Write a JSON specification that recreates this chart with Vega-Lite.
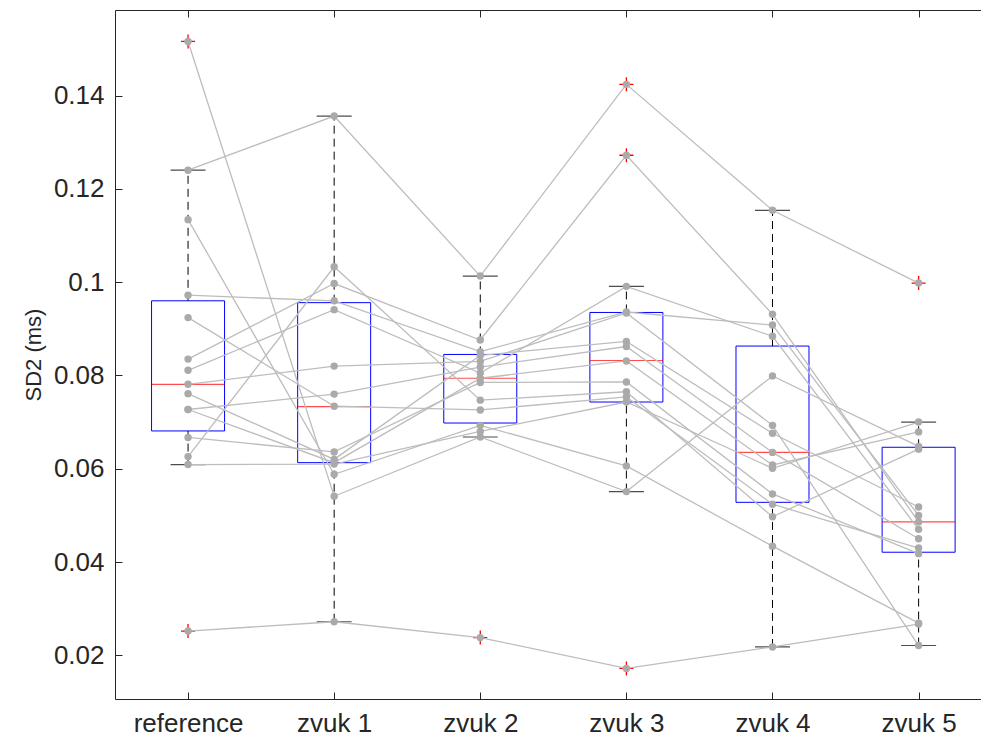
{
  "$schema": "https://vega.github.io/schema/vega-lite/v6.json",
  "width": 866,
  "height": 689,
  "autosize": {"type": "none"},
  "padding": {"left": 115, "top": 10, "right": 0, "bottom": 44},
  "background": "white",
  "config": {"view": {"stroke": null}, "font": "Liberation Sans"},
  "datasets": {
    "pts": [
      {"s": 1, "pos": 1, "v": 0.1516, "out": true}, {"s": 1, "pos": 2, "v": 0.0541, "out": false}, {"s": 1, "pos": 3, "v": 0.0668, "out": false}, {"s": 1, "pos": 4, "v": 0.0551, "out": false}, {"s": 1, "pos": 5, "v": 0.0799, "out": false}, {"s": 1, "pos": 6, "v": 0.0648, "out": false},
      {"s": 2, "pos": 1, "v": 0.1240, "out": false}, {"s": 2, "pos": 2, "v": 0.1356, "out": false}, {"s": 2, "pos": 3, "v": 0.1013, "out": false}, {"s": 2, "pos": 4, "v": 0.1424, "out": true}, {"s": 2, "pos": 5, "v": 0.1154, "out": false}, {"s": 2, "pos": 6, "v": 0.0998, "out": true},
      {"s": 3, "pos": 1, "v": 0.1134, "out": false}, {"s": 3, "pos": 2, "v": 0.0588, "out": false}, {"s": 3, "pos": 3, "v": 0.0693, "out": false}, {"s": 3, "pos": 4, "v": 0.0606, "out": false}, {"s": 3, "pos": 5, "v": 0.0434, "out": false}, {"s": 3, "pos": 6, "v": 0.0269, "out": false},
      {"s": 4, "pos": 1, "v": 0.0972, "out": false}, {"s": 4, "pos": 2, "v": 0.0960, "out": false}, {"s": 4, "pos": 3, "v": 0.0851, "out": false}, {"s": 4, "pos": 4, "v": 0.0936, "out": false}, {"s": 4, "pos": 5, "v": 0.0908, "out": false}, {"s": 4, "pos": 6, "v": 0.0500, "out": false},
      {"s": 5, "pos": 1, "v": 0.0924, "out": false}, {"s": 5, "pos": 2, "v": 0.0734, "out": false}, {"s": 5, "pos": 3, "v": 0.0726, "out": false}, {"s": 5, "pos": 4, "v": 0.0754, "out": false}, {"s": 5, "pos": 5, "v": 0.0524, "out": false}, {"s": 5, "pos": 6, "v": 0.0430, "out": false},
      {"s": 6, "pos": 1, "v": 0.0835, "out": false}, {"s": 6, "pos": 2, "v": 0.0997, "out": false}, {"s": 6, "pos": 3, "v": 0.0876, "out": false}, {"s": 6, "pos": 4, "v": 0.1272, "out": true}, {"s": 6, "pos": 5, "v": 0.0931, "out": false}, {"s": 6, "pos": 6, "v": 0.0486, "out": false},
      {"s": 7, "pos": 1, "v": 0.0811, "out": false}, {"s": 7, "pos": 2, "v": 0.0941, "out": false}, {"s": 7, "pos": 3, "v": 0.0805, "out": false}, {"s": 7, "pos": 4, "v": 0.0991, "out": false}, {"s": 7, "pos": 5, "v": 0.0884, "out": false}, {"s": 7, "pos": 6, "v": 0.0470, "out": false},
      {"s": 8, "pos": 1, "v": 0.0781, "out": false}, {"s": 8, "pos": 2, "v": 0.0820, "out": false}, {"s": 8, "pos": 3, "v": 0.0830, "out": false}, {"s": 8, "pos": 4, "v": 0.0934, "out": false}, {"s": 8, "pos": 5, "v": 0.0693, "out": false}, {"s": 8, "pos": 6, "v": 0.0221, "out": false},
      {"s": 9, "pos": 1, "v": 0.0761, "out": false}, {"s": 9, "pos": 2, "v": 0.0620, "out": false}, {"s": 9, "pos": 3, "v": 0.0843, "out": false}, {"s": 9, "pos": 4, "v": 0.0873, "out": false}, {"s": 9, "pos": 5, "v": 0.0676, "out": false}, {"s": 9, "pos": 6, "v": 0.0518, "out": false},
      {"s": 10, "pos": 1, "v": 0.0727, "out": false}, {"s": 10, "pos": 2, "v": 0.0760, "out": false}, {"s": 10, "pos": 3, "v": 0.0818, "out": false}, {"s": 10, "pos": 4, "v": 0.0862, "out": false}, {"s": 10, "pos": 5, "v": 0.0635, "out": false}, {"s": 10, "pos": 6, "v": 0.0450, "out": false},
      {"s": 11, "pos": 1, "v": 0.0727, "out": false}, {"s": 11, "pos": 2, "v": 0.0613, "out": false}, {"s": 11, "pos": 3, "v": 0.0794, "out": false}, {"s": 11, "pos": 4, "v": 0.0831, "out": false}, {"s": 11, "pos": 5, "v": 0.0608, "out": false}, {"s": 11, "pos": 6, "v": 0.0679, "out": false},
      {"s": 12, "pos": 1, "v": 0.0667, "out": false}, {"s": 12, "pos": 2, "v": 0.0636, "out": false}, {"s": 12, "pos": 3, "v": 0.0785, "out": false}, {"s": 12, "pos": 4, "v": 0.0786, "out": false}, {"s": 12, "pos": 5, "v": 0.0546, "out": false}, {"s": 12, "pos": 6, "v": 0.0418, "out": false},
      {"s": 13, "pos": 1, "v": 0.0626, "out": false}, {"s": 13, "pos": 2, "v": 0.1033, "out": false}, {"s": 13, "pos": 3, "v": 0.0747, "out": false}, {"s": 13, "pos": 4, "v": 0.0765, "out": false}, {"s": 13, "pos": 5, "v": 0.0497, "out": false}, {"s": 13, "pos": 6, "v": 0.0642, "out": false},
      {"s": 14, "pos": 1, "v": 0.0609, "out": false}, {"s": 14, "pos": 2, "v": 0.0610, "out": false}, {"s": 14, "pos": 3, "v": 0.0680, "out": false}, {"s": 14, "pos": 4, "v": 0.0743, "out": false}, {"s": 14, "pos": 5, "v": 0.0601, "out": false}, {"s": 14, "pos": 6, "v": 0.0700, "out": false},
      {"s": 15, "pos": 1, "v": 0.0252, "out": true}, {"s": 15, "pos": 2, "v": 0.0272, "out": false}, {"s": 15, "pos": 3, "v": 0.0238, "out": true}, {"s": 15, "pos": 4, "v": 0.0172, "out": true}, {"s": 15, "pos": 5, "v": 0.0218, "out": false}, {"s": 15, "pos": 6, "v": 0.0267, "out": false}
    ],
    "box": [
      {"pos": 1, "q1": 0.0681, "med": 0.0781, "q3": 0.0960, "lo": 0.0609, "hi": 0.1240},
      {"pos": 2, "q1": 0.0613, "med": 0.0733, "q3": 0.0956, "lo": 0.0272, "hi": 0.1356},
      {"pos": 3, "q1": 0.0698, "med": 0.0794, "q3": 0.0845, "lo": 0.0668, "hi": 0.1013},
      {"pos": 4, "q1": 0.0743, "med": 0.0832, "q3": 0.0935, "lo": 0.0551, "hi": 0.0991},
      {"pos": 5, "q1": 0.0528, "med": 0.0635, "q3": 0.0863, "lo": 0.0218, "hi": 0.1154},
      {"pos": 6, "q1": 0.0421, "med": 0.0486, "q3": 0.0646, "lo": 0.0221, "hi": 0.0700}
    ]
  },
  "resolve": {"axis": {"x": "independent"}},
  "layer": [
    {
      "data": {"name": "box"},
      "mark": {"type": "bar", "width": 73, "fill": null, "fillOpacity": 0, "stroke": "#0000ff", "strokeWidth": 1},
      "encoding": {
        "x": {"field": "pos", "type": "quantitative", "scale": {"domain": [0.5, 6.427], "nice": false, "zero": false, "padding": 0},
          "axis": {"orient": "bottom", "title": null, "values": [1, 2, 3, 4, 5, 6],
            "labelExpr": "['', 'reference', 'zvuk 1', 'zvuk 2', 'zvuk 3', 'zvuk 4', 'zvuk 5'][datum.value]",
            "tickSize": -7, "labelPadding": 18, "labelFontSize": 26, "labelFont": "Liberation Sans", "labelColor": "#262626",
            "domainColor": "#262626", "tickColor": "#262626", "grid": false, "labelFlush": false, "labelOverlap": false}},
        "y": {"field": "q1", "type": "quantitative", "scale": {"domain": [0.010636, 0.15834], "nice": false, "zero": false},
          "axis": {"orient": "left", "title": "SD2 (ms)", "values": [0.02, 0.04, 0.06, 0.08, 0.1, 0.12, 0.14], "format": ".2~f",
            "tickSize": -7, "labelPadding": 18, "labelFontSize": 26, "labelFont": "Liberation Sans", "labelColor": "#262626",
            "domainColor": "#262626", "tickColor": "#262626", "grid": false,
            "titleFont": "Liberation Sans", "titleFontSize": 22, "titleFontWeight": "normal", "titleColor": "#262626", "titlePadding": 8}},
        "y2": {"field": "q3"}
      }
    },
    {
      "data": {"name": "box"},
      "mark": {"type": "rule", "stroke": "#000000", "strokeWidth": 1, "strokeDash": [8, 5]},
      "encoding": {
        "x": {"field": "pos", "type": "quantitative", "axis": null},
        "y": {"field": "q3", "type": "quantitative", "title": "SD2 (ms)"},
        "y2": {"field": "hi"}
      }
    },
    {
      "data": {"name": "box"},
      "mark": {"type": "rule", "stroke": "#000000", "strokeWidth": 1, "strokeDash": [8, 5]},
      "encoding": {
        "x": {"field": "pos", "type": "quantitative", "axis": null},
        "y": {"field": "lo", "type": "quantitative", "title": "SD2 (ms)"},
        "y2": {"field": "q1"}
      }
    },
    {
      "data": {"name": "box"},
      "mark": {"type": "tick", "orient": "horizontal", "size": 35, "thickness": 1.2, "color": "#000000"},
      "encoding": {
        "x": {"field": "pos", "type": "quantitative", "axis": null},
        "y": {"field": "hi", "type": "quantitative", "title": "SD2 (ms)"}
      }
    },
    {
      "data": {"name": "box"},
      "mark": {"type": "tick", "orient": "horizontal", "size": 35, "thickness": 1.2, "color": "#000000"},
      "encoding": {
        "x": {"field": "pos", "type": "quantitative", "axis": null},
        "y": {"field": "lo", "type": "quantitative", "title": "SD2 (ms)"}
      }
    },
    {
      "data": {"name": "box"},
      "mark": {"type": "tick", "orient": "horizontal", "size": 73, "thickness": 1.2, "color": "#ff0000"},
      "encoding": {
        "x": {"field": "pos", "type": "quantitative",
          "axis": {"orient": "top", "title": null, "values": [1, 2, 3, 4, 5, 6], "labels": false, "tickSize": -7,
            "domainColor": "#262626", "tickColor": "#262626", "grid": false}},
        "y": {"field": "med", "type": "quantitative", "title": "SD2 (ms)"}
      }
    },
    {
      "data": {"name": "pts"},
      "transform": [{"filter": "datum.out"}],
      "mark": {"type": "point", "shape": "M-1,0L1,0M0,-1L0,1", "filled": false, "stroke": "#ff0000", "strokeWidth": 1.3, "size": 196, "opacity": 1},
      "encoding": {
        "x": {"field": "pos", "type": "quantitative", "axis": null},
        "y": {"field": "v", "type": "quantitative", "title": "SD2 (ms)"}
      }
    },
    {
      "data": {"name": "pts"},
      "mark": {"type": "line", "stroke": "#bdbdbd", "strokeWidth": 1.3},
      "encoding": {
        "x": {"field": "pos", "type": "quantitative", "axis": null},
        "y": {"field": "v", "type": "quantitative", "title": "SD2 (ms)"},
        "detail": {"field": "s", "type": "nominal"},
        "order": {"field": "pos", "type": "quantitative"}
      }
    },
    {
      "data": {"name": "pts"},
      "mark": {"type": "circle", "color": "#aaaaaa", "size": 55, "opacity": 1},
      "encoding": {
        "x": {"field": "pos", "type": "quantitative", "axis": null},
        "y": {"field": "v", "type": "quantitative", "title": "SD2 (ms)"}
      }
    }
  ]
}
